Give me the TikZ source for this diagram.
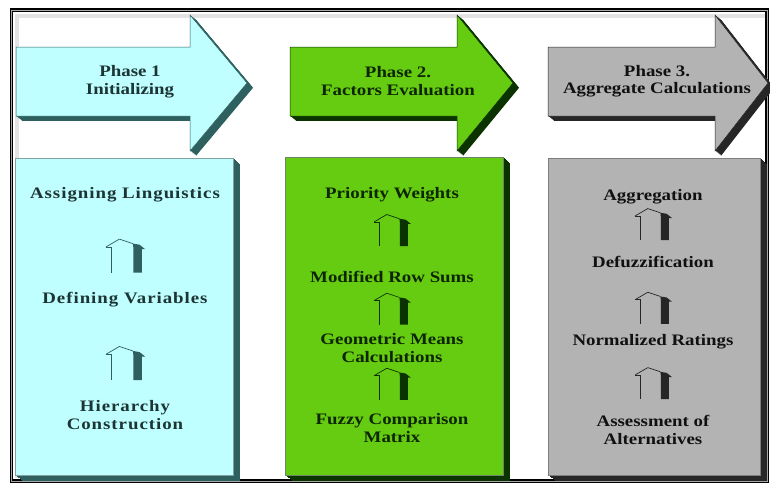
\documentclass[tikz,border=0pt]{standalone}
\usepackage{fontspec}
\setmainfont{Liberation Serif}[FakeStretch=1.18]
\newfontfamily\widefont{Liberation Serif}[FakeStretch=1.18,LetterSpace=6]
\usepackage{tikz}
\usetikzlibrary{calc}
\definecolor{cyanface}{HTML}{BFFFFF}
\definecolor{cyanside}{HTML}{2F6060}
\definecolor{cyantext}{HTML}{1C3434}
\definecolor{greenface}{HTML}{66CC11}
\definecolor{greenside}{HTML}{0A3300}
\definecolor{greentext}{HTML}{0D2600}
\definecolor{greyface}{HTML}{B3B3B3}
\definecolor{greyside}{HTML}{262626}
\definecolor{greytext}{HTML}{111111}
\tikzset{
  phasetext/.style={align=center, inner sep=0pt, font=\bfseries\fontsize{16}{17.5}\selectfont},
  steptext/.style={align=center, inner sep=0pt, font=\bfseries\fontsize{16}{17.5}\selectfont},
  widetext/.style={align=center, inner sep=0pt, font=\widefont\bfseries\fontsize{16}{17.5}\selectfont},
  pics/rise/.style={code={
    \fill[#1] (7,-11) -- (13,-10) -- (18,-6) -- (15,-6) -- (15,15) -- (7.5,15) -- (7.5,-7) -- cycle;
    \draw[#1, line width=0.7pt, line join=round] (-17,-8) -- (-5,-15) -- (7,-11);
    \draw[#1, line width=0.7pt] (-17,-8) -- (-12,-8) -- (-12,15);
  }}
}
\begin{document}
\begin{tikzpicture}[x=1pt,y=-1pt]
\useasboundingbox (0,0) rectangle (770,485);
\fill[white] (0,0) rectangle (770,485);
% outer frame with a soft inner shadow
\draw[gray!22, line width=4pt] (15,15.5) -- (766,15.5);
\draw[gray!22, line width=4pt] (16.5,14) -- (16.5,478);
\draw[line width=1.3pt, double=gray!70, double distance=0.9pt] (11.5,10) rectangle (767,481);
% helper: block arrow with a dark extruded side (body left, head x, tip x)
\newcommand{\blockarrow}[5]{%
  \foreach \d in {0,0.5,...,6}{
    \fill[#5, shift={(\d,\d*0.8)}] (#1,47) -- (#2,47) -- (#2,15) -- (#3,83) -- (#2,151) -- (#2,116) -- (#1,116) -- cycle;
  }
  \filldraw[fill=#4, draw=#5, line width=0.5pt] (#1,47) -- (#2,47) -- (#2,15) -- (#3,83) -- (#2,151) -- (#2,116) -- (#1,116) -- cycle;
}
% helper: 3d panel (left, top, right, bottom)
\newcommand{\blockbox}[6]{%
  \foreach \d in {0,0.5,...,7}{
    \fill[#6, shift={(\d,\d*0.86)}] (#1,#2) rectangle (#3,#4);
  }
  \filldraw[fill=#5, draw=#6!60, line width=0.5pt] (#1,#2) rectangle (#3,#4);
}
\blockarrow{16}{190}{247}{cyanface}{cyanside}
\blockarrow{290}{457}{513}{greenface}{greenside}
\blockarrow{548}{715}{768}{greyface}{greyside}
\blockbox{15}{158}{233}{475}{cyanface}{cyanside}
\blockbox{285}{157}{503}{475}{greenface}{greenside}
\blockbox{548}{158}{760}{475}{greyface}{greyside}

% phase titles
\node[phasetext, text=cyantext] (ph1) at (130,81.5) {Phase 1\\Initializing};
\node[phasetext, text=greentext] (ph2) at (398,81) {Phase 2.\\Factors Evaluation};
\node[phasetext, text=greytext] (ph3) at (657,81) {Phase 3.\\Aggregate Calculations};

% phase 1 steps
\node[widetext, text=cyantext] (s11) at (125,195) {Assigning Linguistics};
\node[widetext, text=cyantext] (s12) at (125,300) {Defining Variables};
\node[widetext, text=cyantext] (s13) at (125,415) {Hierarchy\\Construction};
% phase 2 steps
\node[steptext, text=greentext] (s21) at (392,195) {Priority Weights};
\node[steptext, text=greentext] (s22) at (392,277) {Modified Row Sums};
\node[steptext, text=greentext] (s23) at (392,348) {Geometric Means\\Calculations};
\node[steptext, text=greentext] (s24) at (392,428) {Fuzzy Comparison\\Matrix};
% phase 3 steps
\node[steptext, text=greytext] (s31) at (653,197) {Aggregation};
\node[steptext, text=greytext] (s32) at (653,262) {Defuzzification};
\node[steptext, text=greytext] (s33) at (653,342) {Normalized Ratings};
\node[steptext, text=greytext] (s34) at (653,430) {Assessment of\\Alternatives};

% rising arrows between steps
\foreach \a/\b/\f in {s11/s12/0.58, s12/s13/0.55}
  \pic[scale=1.12] at ($(\a)!\f!(\b)$) {rise=cyanside};
\foreach \a/\b/\f in {s21/s22/0.43, s22/s23/0.45, s23/s24/0.45}
  \pic[scale=1.05] at ($(\a)!\f!(\b)$) {rise=greenside};
\foreach \a/\b/\f in {s31/s32/0.42, s32/s33/0.575, s33/s34/0.47}
  \pic[scale=1.05] at ($(\a)!\f!(\b)$) {rise=greyside};
\end{tikzpicture}
\end{document}
